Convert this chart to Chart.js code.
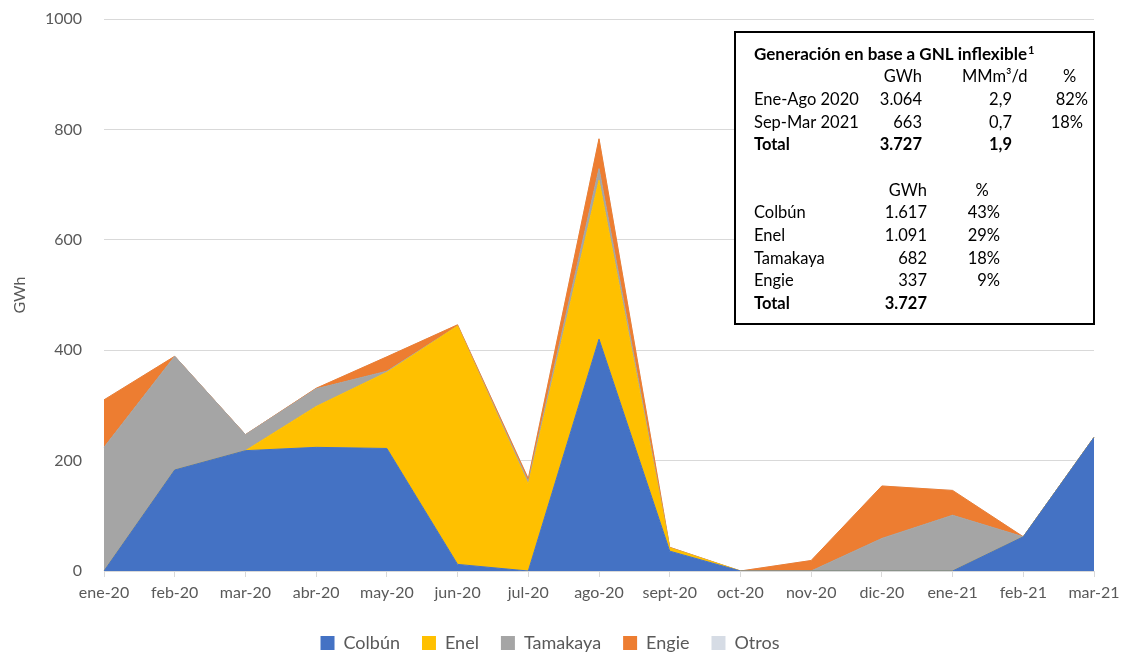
<!DOCTYPE html>
<html>
<head>
<meta charset="utf-8">
<script src="https://cdn.jsdelivr.net/npm/chart.js"></script>
<style>
  html, body { margin: 0; padding: 0; background: #fff; }
  #wrap { width: 1126px; height: 654px; position: relative; }
</style>
</head>
<body>
<div id="wrap"><canvas id="myChart" width="1126" height="654"></canvas></div>
<script>
const months = ['ene-20', 'feb-20', 'mar-20', 'abr-20', 'may-20', 'jun-20', 'jul-20', 'ago-20',
  'sept-20', 'oct-20', 'nov-20', 'dic-20', 'ene-21', 'feb-21', 'mar-21'];
const colbun   = [0, 183, 218, 224, 222, 12, 0, 420, 36, 0, 0, 0, 0, 62, 242];
const enel     = [0, 0, 0, 74, 138, 432, 157, 288, 6, 0, 0, 0, 0, 0, 0];
const tamakaya = [224, 206, 29, 32, 2, 0, 5, 21, 0, 0, 0, 59, 101, 0, 0];
const engie    = [86, 0, 0, 1, 26, 2, 5, 54, 1, 0, 19, 95, 45, 0, 0];
const otros    = [0, 0, 0, 0, 0, 0, 1, 0, 0, 0, 0, 0, 0, 0, 0];
const yTicks = [0, 200, 400, 600, 800, 1000];

// summary box
const boxTitle = 'Generación en base a GNL inflexible';
const periodHead = ['GWh', 'MMm³/d', '%'];
const periodRows = [
  ['Ene-Ago 2020', '3.064', '2,9', '82%'],
  ['Sep-Mar 2021', '663', '0,7', '18%'],
  ['Total', '3.727', '1,9', '']
];
const companyHead = ['GWh', '%'];
const companyRows = [
  ['Colbún', '1.617', '43%'],
  ['Enel', '1.091', '29%'],
  ['Tamakaya', '682', '18%'],
  ['Engie', '337', '9%'],
  ['Total', '3.727', '']
];

const FONT = 'Lato, "Liberation Sans", sans-serif';
const TXT = '#595959';
const BODY = '16.5px ';

const tablePlugin = {
  id: 'tableBox',
  afterDraw(chart) {
    const ctx = chart.ctx;
    ctx.save();
    ctx.fillStyle = '#fff';
    ctx.fillRect(735, 32, 359, 292);
    ctx.strokeStyle = '#000';
    ctx.lineWidth = 2;
    ctx.strokeRect(735, 32, 359, 292);
    ctx.fillStyle = '#000';
    ctx.textBaseline = 'middle';
    const x0 = 754;
    ctx.font = 'bold 17px ' + FONT;
    ctx.textAlign = 'left';
    ctx.fillText(boxTitle, x0, 55);
    const tw = ctx.measureText(boxTitle).width;
    ctx.font = 'bold 11px ' + FONT;
    ctx.fillText('1', x0 + tw + 1, 50);

    ctx.font = BODY + FONT;
    ctx.textAlign = 'right';
    ctx.fillText(periodHead[0], 922, 77);
    ctx.textAlign = 'left';
    ctx.fillText(periodHead[1], 962, 77);
    ctx.fillText(periodHead[2], 1063, 77);
    const pRightCols = [922, 1012, 1088];
    periodRows.forEach((r, i) => {
      const y = 100 + i * 22.5;
      const bold = r[0] === 'Total';
      ctx.font = (bold ? 'bold ' : '') + BODY + FONT;
      ctx.textAlign = 'left';
      ctx.fillText(r[0], x0, y);
      ctx.textAlign = 'right';
      ctx.fillText(r[1], pRightCols[0], y);
      ctx.fillText(r[2], pRightCols[1], y);
      ctx.font = BODY + FONT;
      ctx.fillText(r[3], i === 0 ? pRightCols[2] : pRightCols[2] - 5, y);
    });
    ctx.font = BODY + FONT;
    ctx.textAlign = 'right';
    ctx.fillText(companyHead[0], 927, 191);
    ctx.textAlign = 'center';
    ctx.fillText(companyHead[1], 982, 191);
    companyRows.forEach((r, i) => {
      const y = 213 + i * 22.7;
      const bold = r[0] === 'Total';
      ctx.font = (bold ? 'bold ' : '') + BODY + FONT;
      ctx.textAlign = 'left';
      ctx.fillText(r[0], x0, y);
      ctx.textAlign = 'right';
      ctx.fillText(r[1], 927, y);
      ctx.font = BODY + FONT;
      ctx.fillText(r[2], 1000, y);
    });
    ctx.restore();
  }
};

function area(label, data, color, fill) {
  return {
    label, data, fill,
    backgroundColor: color,
    borderColor: color,
    borderWidth: 1,
    pointRadius: 0,
    tension: 0
  };
}

new Chart(document.getElementById('myChart'), {
  type: 'line',
  data: {
    labels: months,
    datasets: [
      area('Colbún', colbun, '#4472C4', 'origin'),
      area('Enel', enel, '#FFC000', '-1'),
      area('Tamakaya', tamakaya, '#A5A5A5', '-1'),
      area('Engie', engie, '#ED7D31', '-1'),
      area('Otros', otros, '#D6DCE5', '-1')
    ]
  },
  options: {
    responsive: false,
    animation: false,
    layout: { padding: { left: 6, right: 32, top: 19, bottom: -8 } },
    plugins: {
      tooltip: { enabled: false },
      legend: {
        position: 'bottom',
        labels: {
          color: TXT,
          font: { family: FONT, size: 18 },
          boxWidth: 14,
          boxHeight: 14,
          padding: 22,
          generateLabels(chart) {
            return chart.data.datasets.map((d, i) => ({
              text: d.label, fillStyle: d.backgroundColor, strokeStyle: d.backgroundColor,
              lineWidth: 0, datasetIndex: i, fontColor: TXT
            }));
          }
        }
      }
    },
    scales: {
      x: {
        offset: false,
        grid: { display: true, drawOnChartArea: false, color: '#D9D9D9', tickLength: 6 },
        border: { color: '#D9D9D9' },
        ticks: { color: TXT, font: { family: FONT, size: 16 }, maxRotation: 0, padding: 6 },
        afterFit(s) { s.height = 41; }
      },
      y: {
        stacked: true,
        min: 0, max: 1000,
        afterBuildTicks(s) { s.ticks = yTicks.map(v => ({ value: v })); },
        grid: { color: '#D9D9D9', drawTicks: false },
        border: { display: false },
        ticks: { color: TXT, font: { family: FONT, size: 16 }, padding: 22, callback: v => String(v) },
        title: { display: true, text: 'GWh', color: TXT, font: { family: FONT, size: 16 } },
        afterFit(s) { s.width = 98; s.paddingTop = 0; s.paddingBottom = 0; }
      }
    }
  },
  plugins: [tablePlugin]
});
</script>
</body>
</html>
